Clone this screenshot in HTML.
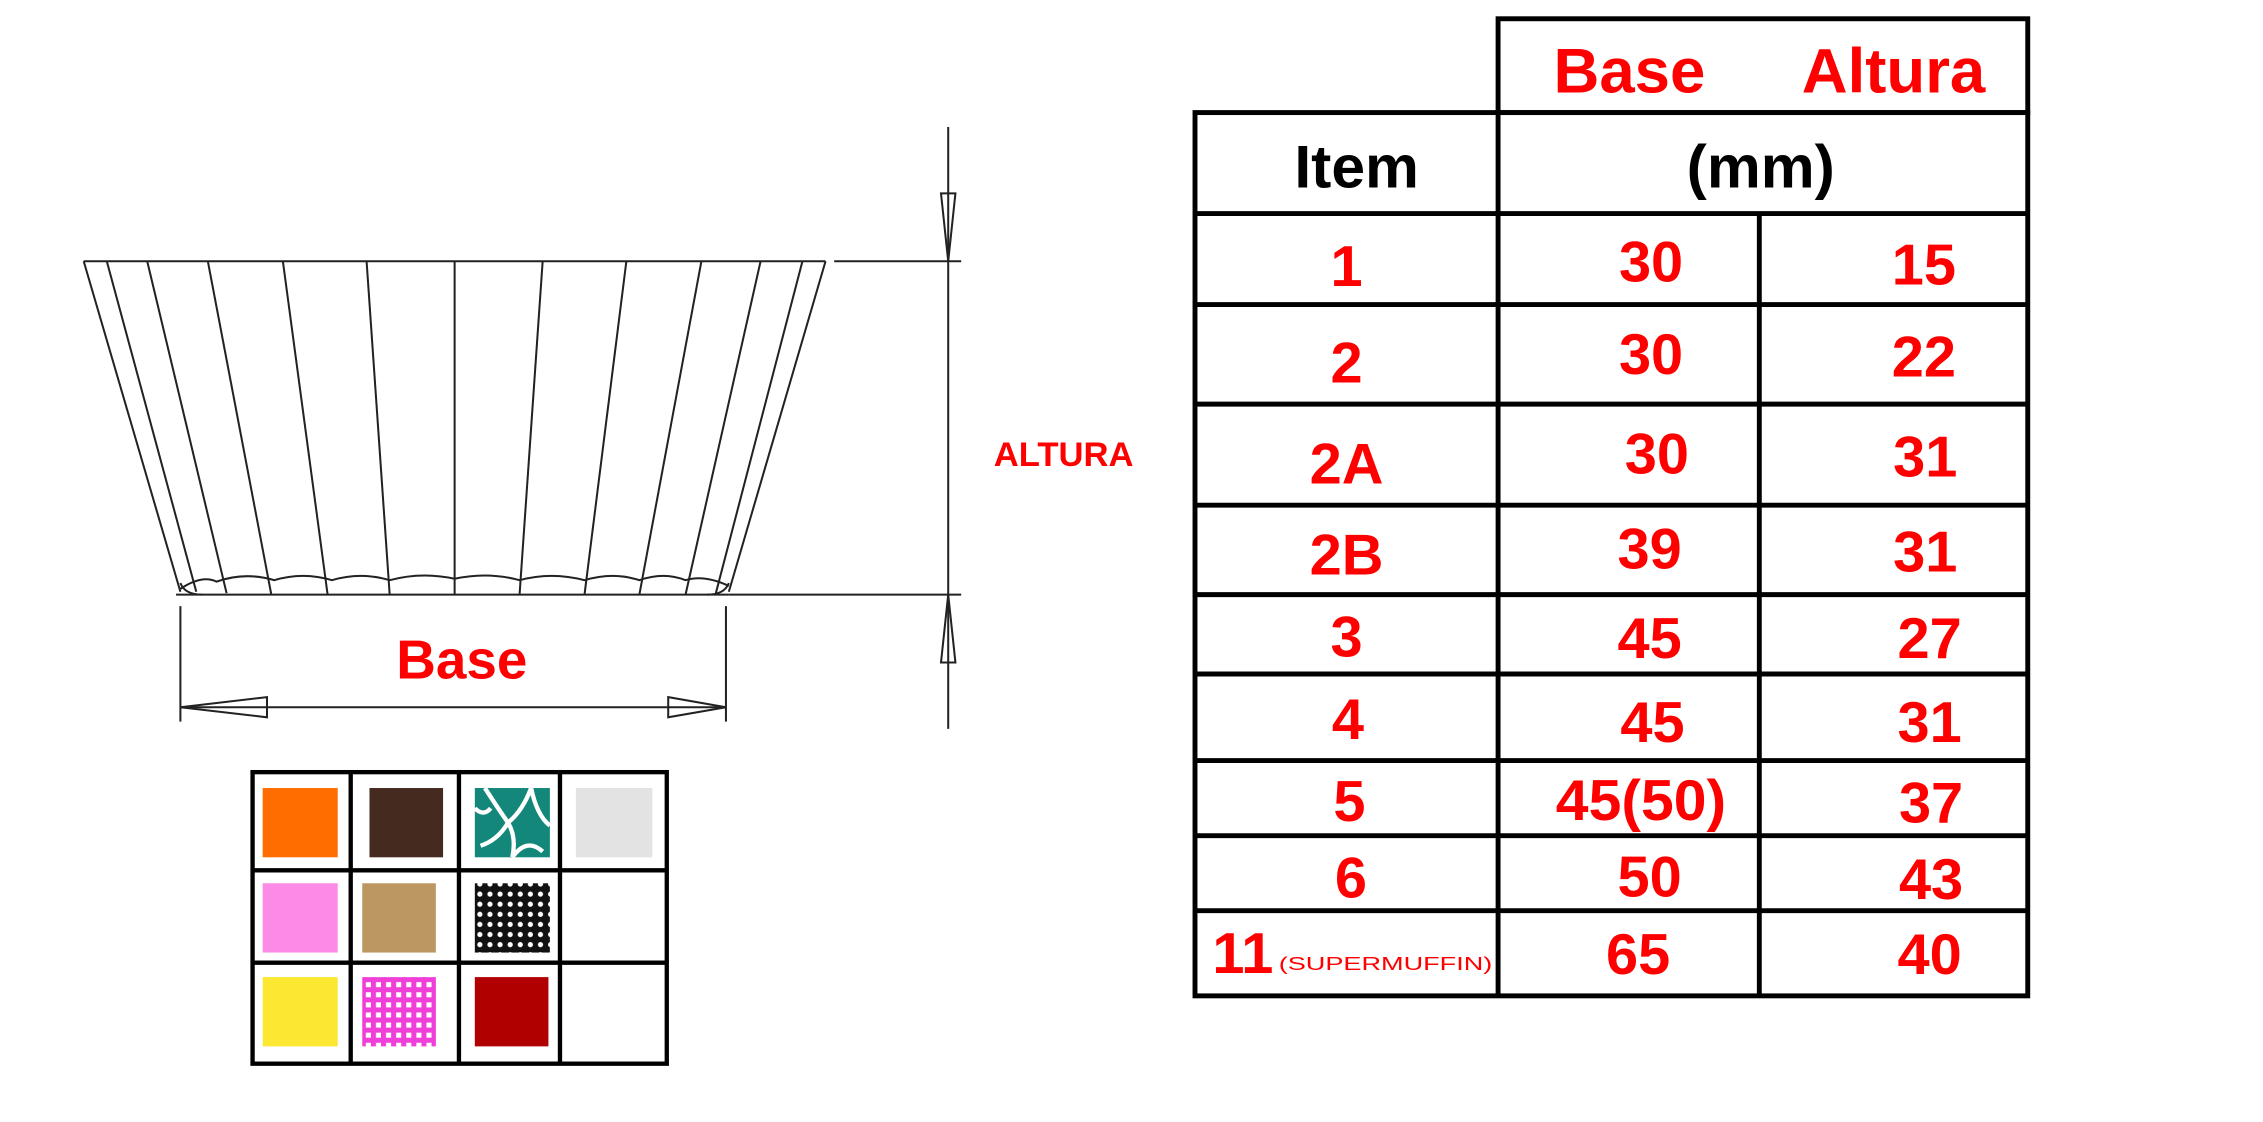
<!DOCTYPE html>
<html><head><meta charset="utf-8"><style>
html,body{margin:0;padding:0;background:#fff;}
svg{display:block;}
text{font-family:"Liberation Sans","DejaVu Sans",sans-serif;}
</style></head><body>
<svg width="2263" height="1122" viewBox="0 0 1568 777.4" preserveAspectRatio="none" xmlns="http://www.w3.org/2000/svg">
<defs>
<pattern id="dots" width="7" height="7" patternUnits="userSpaceOnUse"><rect width="7" height="7" fill="#111"/><circle cx="3.5" cy="3.5" r="1.8" fill="#fff"/></pattern>
<pattern id="pdots" width="7" height="7" patternUnits="userSpaceOnUse"><rect width="7" height="7" fill="#f03fd8"/><rect x="1.5" y="1.5" width="3.5" height="3.5" fill="#fff"/></pattern>
</defs>
<g stroke="#222" stroke-width="1.4" fill="none">
<line x1="58" y1="181" x2="572" y2="181"/>
<line x1="122" y1="412" x2="505" y2="412"/>
<line x1="58" y1="181" x2="125" y2="410"/>
<line x1="74" y1="181" x2="136" y2="410"/>
<line x1="102" y1="181" x2="157" y2="411"/>
<line x1="144" y1="181" x2="188" y2="412"/>
<line x1="196" y1="181" x2="227" y2="412"/>
<line x1="254" y1="181" x2="270" y2="412"/>
<line x1="315" y1="181" x2="315" y2="412"/>
<line x1="376" y1="181" x2="360" y2="412"/>
<line x1="434" y1="181" x2="405" y2="412"/>
<line x1="486" y1="181" x2="443" y2="412"/>
<line x1="527" y1="181" x2="475" y2="412"/>
<line x1="556" y1="181" x2="496" y2="411"/>
<line x1="572" y1="181" x2="505" y2="410"/>
<path d="M125 408 Q140 398 150 403 Q170 396 190 402 Q210 396 230 402 Q250 396 270 402 Q292 396 315 401 Q338 396 360 402 Q382 396 405 402 Q425 396 443 402 Q460 396 475 402 Q488 398 505 406"/>
<path d="M125 404 Q128 412 140 412 M505 404 Q502 412 490 412"/>
<line x1="578" y1="181" x2="666" y2="181"/>
<line x1="505" y1="412" x2="666" y2="412"/>
<line x1="657" y1="88" x2="657" y2="505"/>
<path d="M652 134 L662 134 L657 181 Z"/>
<path d="M652 459 L662 459 L657 412 Z"/>
<line x1="125" y1="420" x2="125" y2="500"/>
<line x1="503" y1="420" x2="503" y2="500"/>
<line x1="125" y1="490" x2="503" y2="490"/>
<path d="M125 490 L185 483 L185 497 Z"/>
<path d="M503 490 L463 483 L463 497 Z"/>
</g>
<text x="320" y="470" font-size="38" fill="#f00" text-anchor="middle" font-weight="bold">Base</text>
<text x="737" y="323" font-size="24" fill="#f00" text-anchor="middle" font-weight="bold">ALTURA</text>
<rect x="182" y="546" width="52" height="48" fill="#ff6d00"/>
<rect x="256" y="546" width="51" height="48" fill="#452b1f"/>
<rect x="329" y="546" width="52" height="48" fill="#13877a"/>
<g stroke="#fff" stroke-width="3" fill="none">
<path d="M336 546 Q345 560 352 570 Q358 580 355 594 M352 570 Q362 562 368 546 M368 546 Q372 565 381 572 M352 570 Q345 582 333 586 M355 594 Q365 580 376 590 M329 560 Q335 566 340 560"/>
</g>
<rect x="399" y="546" width="53" height="48" fill="#e3e3e3"/>
<rect x="182" y="612" width="52" height="48" fill="#fb8be6"/>
<rect x="251" y="612" width="51" height="48" fill="#bc9761"/>
<rect x="329" y="612" width="52" height="48" fill="url(#dots)"/>
<rect x="182" y="677" width="52" height="48" fill="#fce831"/>
<rect x="251" y="677" width="51" height="48" fill="url(#pdots)"/>
<rect x="329" y="677" width="51" height="48" fill="#b00000"/>
<g stroke="#000" stroke-width="3" fill="none">
<rect x="175" y="535" width="287" height="202"/>
<line x1="243" y1="535" x2="243" y2="737"/>
<line x1="318" y1="535" x2="318" y2="737"/>
<line x1="388" y1="535" x2="388" y2="737"/>
<line x1="175" y1="603" x2="462" y2="603"/>
<line x1="175" y1="667" x2="462" y2="667"/>
</g>
<g stroke="#000" stroke-width="3.4" fill="none">
<rect x="1038" y="13" width="367" height="65"/>
<rect x="828" y="78" width="577" height="612"/>
<line x1="1038" y1="78" x2="1038" y2="690"/>
<line x1="1219" y1="148" x2="1219" y2="690"/>
<line x1="828" y1="148" x2="1405" y2="148"/>
<line x1="828" y1="211" x2="1405" y2="211"/>
<line x1="828" y1="280" x2="1405" y2="280"/>
<line x1="828" y1="350" x2="1405" y2="350"/>
<line x1="828" y1="412" x2="1405" y2="412"/>
<line x1="828" y1="467" x2="1405" y2="467"/>
<line x1="828" y1="527" x2="1405" y2="527"/>
<line x1="828" y1="579" x2="1405" y2="579"/>
<line x1="828" y1="631" x2="1405" y2="631"/>
</g>
<g font-size="44" fill="#f00" text-anchor="middle" font-weight="bold">
<text x="1129" y="64">Base</text>
<text x="1312" y="64">Altura</text>
</g>
<text x="940" y="130" font-size="42" fill="#000" text-anchor="middle" font-weight="bold">Item</text>
<text x="1220" y="130" font-size="42" fill="#000" text-anchor="middle" font-weight="bold">(mm)</text>
<g font-size="40" fill="#f00" text-anchor="middle" font-weight="bold">
<text x="933" y="198">1</text><text x="1144" y="195">30</text><text x="1333" y="197">15</text>
<text x="933" y="265">2</text><text x="1144" y="259">30</text><text x="1333" y="261">22</text>
<text x="933" y="335">2A</text><text x="1148" y="328">30</text><text x="1334" y="330">31</text>
<text x="933" y="398">2B</text><text x="1143" y="394">39</text><text x="1334" y="396">31</text>
<text x="933" y="455">3</text><text x="1143" y="456">45</text><text x="1337" y="456">27</text>
<text x="934" y="512">4</text><text x="1145" y="514">45</text><text x="1337" y="514">31</text>
<text x="935" y="569">5</text><text x="1137" y="568" textLength="118" lengthAdjust="spacingAndGlyphs">45(50)</text><text x="1338" y="570">37</text>
<text x="936" y="622">6</text><text x="1143" y="621">50</text><text x="1338" y="623">43</text>
<text x="1135" y="675">65</text><text x="1337" y="675">40</text>
</g>
<text x="840" y="674" font-size="40" fill="#f00" font-weight="bold">11</text>
<text x="886" y="672" font-size="12.5" fill="#f00" textLength="148" lengthAdjust="spacingAndGlyphs">(SUPERMUFFIN)</text>
</svg>
</body></html>
